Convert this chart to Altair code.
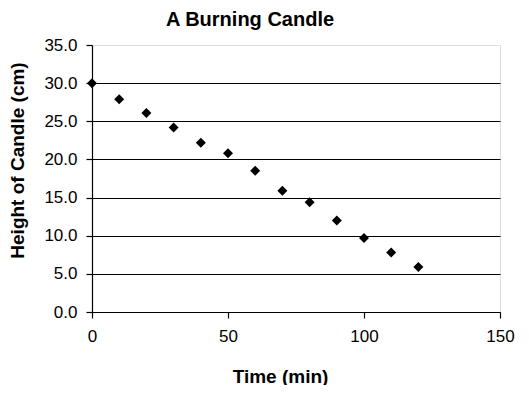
import altair as alt
import pandas as pd

time_min = [0, 10, 20, 30, 40, 50, 60, 70, 80, 90, 100, 110, 120]
height_cm = [30.0, 27.9, 26.1, 24.2, 22.2, 20.8, 18.5, 15.9, 14.4, 12.0, 9.7, 7.8, 5.9]
x_ticks = [0, 50, 100, 150]
y_ticks = [0, 5, 10, 15, 20, 25, 30, 35]

df = pd.DataFrame({"t": time_min, "h": height_cm})

FONT = "Liberation Sans"

chart = (
    alt.Chart(df)
    .mark_point(shape="diamond", filled=True, color="black", size=100, opacity=1)
    .encode(
        x=alt.X(
            "t:Q",
            scale=alt.Scale(domain=[0, 150], nice=False, zero=True),
            axis=alt.Axis(
                title="Time (min)",
                values=x_ticks,
                format="d",
                grid=False,
                labelFlush=False,
                domainColor="black",
                domainWidth=1.2,
                tickColor="black",
                tickWidth=1.2,
                tickSize=6,
                labelPadding=10,
                labelFontSize=17,
                labelColor="black",
                labelFont=FONT,
                titleFont=FONT,
                titleFontSize=19,
                titleFontWeight="bold",
                titleColor="black",
                titleX=188,
                titleY=64,
                titleBaseline="middle",
            ),
        ),
        y=alt.Y(
            "h:Q",
            scale=alt.Scale(domain=[0, 35], nice=False),
            axis=alt.Axis(
                title="Height of Candle (cm)",
                values=y_ticks,
                format=".1f",
                grid=True,
                labelFlush=False,
                gridColor={"condition": {"test": "datum.value >= 35", "value": "transparent"}, "value": "black"},
                gridWidth=1.2,
                domainColor="black",
                domainWidth=1.2,
                tickColor="black",
                tickWidth=1.2,
                tickSize=6,
                labelPadding=9,
                labelFontSize=17,
                labelColor="black",
                labelFont=FONT,
                titleFont=FONT,
                titleFontSize=19,
                titleFontWeight="bold",
                titleColor="black",
                titleX=-75,
                titleY=115,
                titleBaseline="middle",
            ),
        ),
    )
    .properties(
        width=408,
        height=267,
        autosize=alt.AutoSizeParams(type="none"),
        padding={"left": 84, "top": 37, "right": 21, "bottom": 73},
        title=alt.TitleParams(
            "A Burning Candle",
            font=FONT,
            fontSize=20,
            fontWeight="bold",
            color="black",
            anchor="middle",
            dx=-46,
            offset=6,
        ),
    )
    .configure_view(stroke=None)
    .configure(background="white")
)

chart.save("out.html", embed_options={"renderer": "svg", "actions": False})
